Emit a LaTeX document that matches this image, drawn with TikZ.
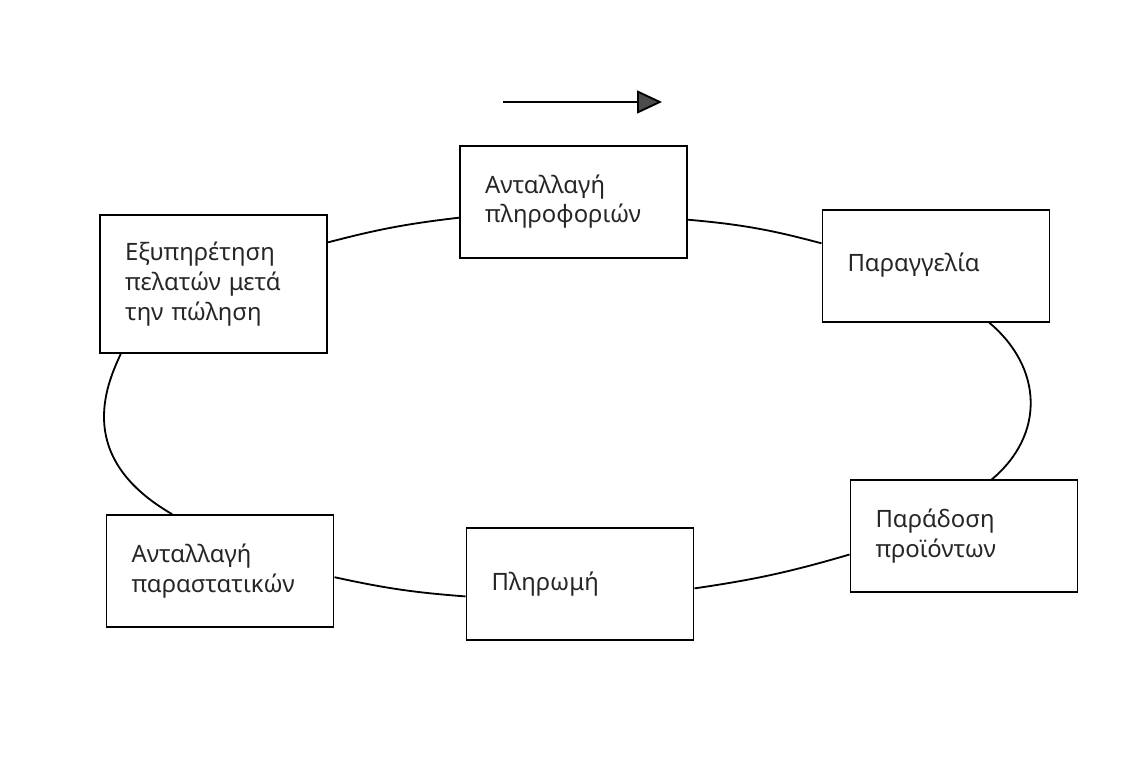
\documentclass[tikz,border=0pt]{standalone}
\usepackage{fontspec}
\setmainfont{Noto Sans}
\usetikzlibrary{arrows.meta}

\tikzset{
	stage/.style = {draw, rectangle, line width=1.4pt, text width=4.425cm, inner xsep=0.625cm, minimum height=2.8cm, align=left, font=\fontsize{17}{21.3}\selectfont, text=black!85},
	link/.style = {line width=1.3pt}
}

\begin{document}
\begin{tikzpicture}
		\fill[white] (0,0) rectangle (28.45,19.45);
		\useasboundingbox (0,0) rectangle (28.45,19.45);
		\node[stage] (info) at (14.34, 14.41) {Ανταλλαγή\\πληροφοριών};
		\node[stage] (order) at (23.40, 12.81) {Παραγγελία};
		\node[stage] (deliv) at (24.10, 6.04) {Παράδοση\\προϊόντων};
		\node[stage] (pay) at (14.50, 4.84) {Πληρωμή};
		\node[stage] (docs) at (5.50, 5.17) {Ανταλλαγή\\παραστατικών};
		\node[stage, minimum height=3.45cm] (svc) at (5.34, 12.35) {Εξυπηρέτηση\\πελατών μετά\\την πώληση};
		\coordinate (flowstart) at (12.575, 16.90);
		\coordinate (flowend) at (16.55, 16.90);
		\draw[link, -{Triangle[length=0.625cm, width=0.575cm, fill=black!70]}] (flowstart) -- (flowend);
		\draw[link] (svc.20) to[bend left=4] (info.188);
		\draw[link] (info.-9) to[bend left=5] (order.169);
		\draw[link] (order.-47) .. controls +(-40:1.75) and +(40:1.75) .. (deliv.64);
		\draw[link] (deliv.189) to[bend left=4] (pay.-2);
		\draw[link] (pay.186) to[bend left=4] (docs.-3);
		\draw[link] (docs.130) .. controls +(150:2.8) and +(-115:0.9) .. (svc.217);
	\end{tikzpicture}
\end{document}
